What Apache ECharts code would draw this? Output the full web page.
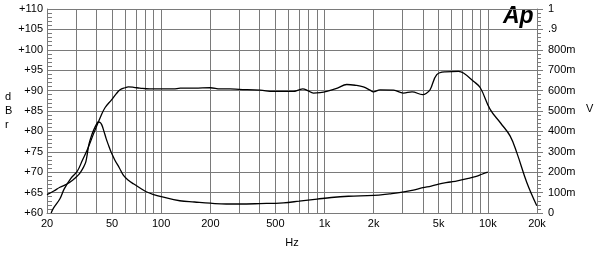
<!DOCTYPE html>
<html>
<head>
<meta charset="utf-8">
<script src="https://cdn.jsdelivr.net/npm/echarts@6/dist/echarts.min.js"></script>
<style>html,body{margin:0;padding:0;background:#fff}#c{width:600px;height:253px}</style>
</head>
<body>
<div id="c"></div>
<script>
// Frequency response (dBr, left axis)
const respFreq = [21.2, 22, 24, 25.5, 28, 30.7, 33, 35.4, 38.8, 42.7, 45.3, 49.8, 53, 56, 60, 63, 68, 74, 85, 100, 119, 131, 160, 200, 230, 264, 300, 403, 486, 560, 644, 700, 736, 790, 855, 940, 1032, 1200, 1368, 1550, 1730, 1900, 1991, 2188, 2650, 3041, 3434, 3990, 4225, 4430, 4868, 5473, 6605, 7092, 8160, 8990, 10330, 12000, 13680, 15040, 17320, 19940];
const respDb   = [60.0, 61.3, 63.5, 65.9, 68.5, 70.3, 73.0, 75.6, 79.7, 83.7, 85.8, 87.8, 89.2, 90.2, 90.7, 90.9, 90.8, 90.6, 90.4, 90.4, 90.4, 90.6, 90.6, 90.7, 90.4, 90.4, 90.3, 90.1, 89.8, 89.8, 89.8, 90.2, 90.4, 90.0, 89.4, 89.5, 89.8, 90.6, 91.5, 91.3, 90.9, 90.1, 89.7, 90.2, 90.1, 89.4, 89.7, 89.0, 89.4, 90.2, 93.9, 94.6, 94.7, 94.3, 92.3, 90.7, 85.4, 82.0, 78.9, 74.8, 67.5, 61.8];
// Second trace (V, right axis)
const impFreq = [20, 22, 24, 26.5, 29, 30.7, 31.8, 32.9, 33.8, 34.6, 35.3, 36.1, 37.4, 38.8, 40, 41.2, 42.3, 43.3, 44.5, 46, 47.5, 49.2, 52, 55.4, 58.8, 63, 68, 75, 81, 90, 100, 130, 160, 200, 250, 300, 400, 560, 700, 900, 1100, 1400, 2000, 2500, 3000, 3500, 4000, 4500, 5000, 5900, 6500, 7600, 8500, 9200, 10000];
const impV    = [0.09, 0.108, 0.126, 0.142, 0.164, 0.182, 0.196, 0.214, 0.232, 0.252, 0.29, 0.336, 0.378, 0.41, 0.432, 0.446, 0.444, 0.432, 0.404, 0.366, 0.334, 0.302, 0.26, 0.222, 0.184, 0.16, 0.142, 0.12, 0.104, 0.09, 0.08, 0.06, 0.054, 0.048, 0.044, 0.044, 0.046, 0.05, 0.058, 0.068, 0.076, 0.082, 0.086, 0.094, 0.102, 0.112, 0.124, 0.132, 0.142, 0.152, 0.158, 0.17, 0.18, 0.19, 0.2];
// Axis ticks / labels
const xGridValues = [20, 30, 40, 50, 60, 70, 80, 90, 100, 200, 300, 400, 500, 600, 700, 800, 900, 1000, 2000, 3000, 4000, 5000, 6000, 7000, 8000, 9000, 10000, 20000];
const xLabelValues = [20, 50, 100, 200, 500, 1000, 2000, 5000, 10000, 20000];
const xLabelText = {20:'20',50:'50',100:'100',200:'200',500:'500',1000:'1k',2000:'2k',5000:'5k',10000:'10k',20000:'20k'};

const FONT = 'Liberation Sans, Arial, sans-serif';
const GRID = '#7a7a7a';
const chart = echarts.init(document.getElementById('c'), null, {renderer: 'canvas'});
chart.setOption({
  animation: false,
  backgroundColor: '#fff',
  grid: {left: 47, right: 63, top: 9, bottom: 39, containLabel: false},
  xAxis: {
    type: 'log', logBase: 10, min: 20, max: 20000,
    name: 'Hz', nameLocation: 'middle', nameGap: 24,
    nameTextStyle: {fontFamily: FONT, fontSize: 11, color: '#000'},
    axisLine: {show: true, lineStyle: {color: GRID, width: 1}},
    axisTick: {show: false, customValues: xGridValues},
    axisLabel: {customValues: xLabelValues, margin: 5, fontFamily: FONT, fontSize: 11, color: '#000',
      formatter: v => xLabelText[Math.round(v)] || ''},
    splitLine: {show: true, lineStyle: {color: GRID, width: 1}},
    minorTick: {show: false}, minorSplitLine: {show: false}
  },
  yAxis: [{
    type: 'value', min: 60, max: 110, interval: 5, position: 'left',
    axisLine: {show: true, lineStyle: {color: GRID, width: 1}},
    axisTick: {show: true, inside: true, length: 6, lineStyle: {color: GRID}},
    minorTick: {show: true, splitNumber: 5, length: 5, lineStyle: {color: GRID}},
    axisLabel: {margin: 4, fontFamily: FONT, fontSize: 11, color: '#000', formatter: v => '+' + v},
    splitLine: {show: true, lineStyle: {color: GRID, width: 1}}
  }, {
    type: 'value', min: 0, max: 1, interval: 0.1, position: 'right',
    axisLine: {show: true, lineStyle: {color: GRID, width: 1}},
    axisTick: {show: true, inside: false, length: 6, lineStyle: {color: GRID}},
    minorTick: {show: true, splitNumber: 5, length: 4, lineStyle: {color: GRID}},
    axisLabel: {margin: 11, fontFamily: FONT, fontSize: 11, color: '#000',
      formatter: v => { const m = Math.round(v * 1000); if (m === 0) return '0'; if (m === 1000) return '1'; if (m === 900) return '.9'; return m + 'm'; }},
    splitLine: {show: false}
  }],
  graphic: [
    {type: 'text', left: 5, top: 90, style: {text: 'd\nB\nr', font: '11px ' + FONT, fill: '#000', lineHeight: 14, align: 'center'}},
    {type: 'text', left: 586, top: 103, style: {text: 'V', font: '11px ' + FONT, fill: '#000'}},
    {type: 'text', left: 503, top: 5, style: {text: 'Ap', font: 'italic bold 23px ' + FONT, fill: '#000'}}
  ],
  series: [{
    type: 'line', yAxisIndex: 0, smooth: 0.4, symbol: 'none',
    lineStyle: {color: '#000', width: 1.3},
    data: respFreq.map((f, i) => [f, respDb[i]])
  }, {
    type: 'line', yAxisIndex: 1, smooth: 0.4, symbol: 'none',
    lineStyle: {color: '#000', width: 1.3},
    data: impFreq.map((f, i) => [f, impV[i]])
  }]
});
</script>
</body>
</html>
